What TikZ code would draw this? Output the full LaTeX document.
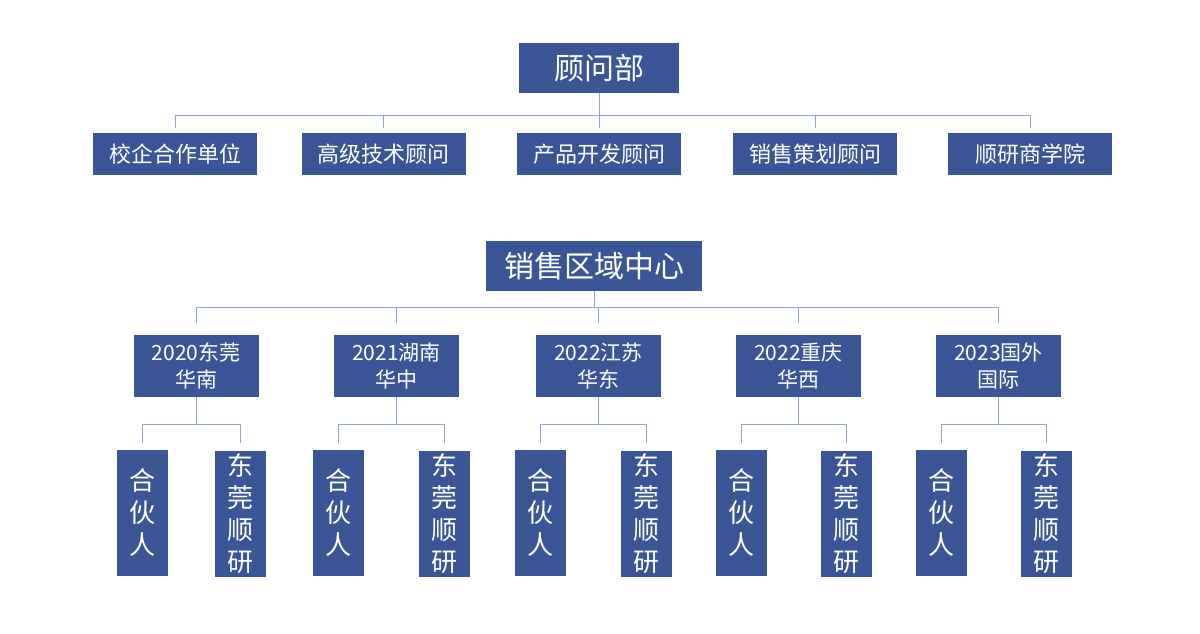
\documentclass[tikz,border=0pt]{standalone}
\usepackage{fontspec}
\setmainfont{Noto Sans CJK SC}
\begin{document}
\begin{tikzpicture}[x=1pt,y=-1pt,
  bx/.style={fill=boxblue,text=white,inner sep=0pt,align=center},
  ln/.style={draw=lineblue,line width=1pt}]
\definecolor{boxblue}{HTML}{3A5697}
\definecolor{lineblue}{HTML}{8EA6D6}
\useasboundingbox (0,0) rectangle (1200,633);
% top
\node[bx,minimum width=160pt,minimum height=50pt,font=\fontsize{30}{34}\selectfont] (gw) at (599,68) {顾问部};
\foreach \n/\x/\t in {a/175/校企合作单位,b/383.5/高级技术顾问,c/599/产品开发顾问,d/815/销售策划顾问,e/1030/顺研商学院}{
  \node[bx,minimum width=164pt,minimum height=42pt,font=\fontsize{22}{26}\selectfont] (\n) at (\x,154) {\t};
}
\draw[ln] (gw.south) -- (gw.south |- 0,115);
\draw[ln] (a.north |- 0,128) |- (e.north |- 0,115) -- (e.north |- 0,128);
\foreach \n in {b,c,d}{\draw[ln] (\n.north |- 0,115) -- (\n.north |- 0,128);}
% sales
\node[bx,minimum width=216pt,minimum height=50pt,font=\fontsize{30}{34}\selectfont] (xs) at (594,266) {销售区域中心};
\draw[ln] (xs.south) -- (xs.south |- 0,307);
\foreach \n/\x/\t/\l/\r in {
  p/196/2020东莞\\华南/142.5/240,
  q/396.5/2021湖南\\华中/338.5/444,
  r/598.5/2022江苏\\华东/540.5/646.5,
  s/798.5/2022重庆\\华西/741.5/846.5,
  t/998.5/2023国外\\国际/941.5/1046.5}{
  \node[bx,minimum width=125pt,minimum height=62pt,font=\fontsize{21}{27}\selectfont] (\n) at (\x,366) {\t};
  \draw[ln] (\n.north |- 0,307) -- (\n.north |- 0,323);
  \node[bx,minimum width=51pt,minimum height=126pt,font=\fontsize{26}{32}\selectfont] (\n1) at (\l,513) {合\\伙\\人};
  \node[bx,minimum width=51pt,minimum height=126pt,font=\fontsize{26}{32}\selectfont] (\n2) at (\r,514) {东\\莞\\顺\\研};
  \draw[ln] (\n.south) -- (\n.south |- 0,424);
  \draw[ln] (\n1.north |- 0,443) |- (\n2.north |- 0,424) -- (\n2.north |- 0,443);
}
\draw[ln] (p.north |- 0,307) -- (t.north |- 0,307);
\end{tikzpicture}
\end{document}
